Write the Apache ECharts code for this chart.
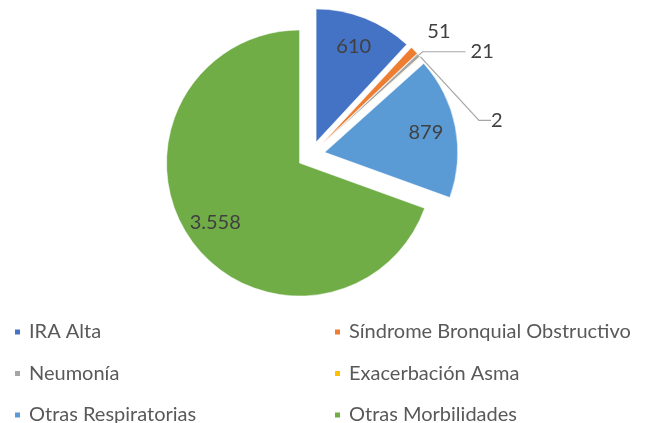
<!DOCTYPE html>
<html><head><meta charset="utf-8">
<script src="https://cdn.jsdelivr.net/npm/echarts@6/dist/echarts.min.js"></script>
<style>html,body{margin:0;padding:0;background:#fff}#c{width:645px;height:423px}</style>
</head><body><div id="c"></div>
<script>
const categories = ['IRA Alta','Síndrome Bronquial Obstructivo','Neumonía','Exacerbación Asma','Otras Respiratorias','Otras Morbilidades'];
const values = [610, 51, 21, 2, 879, 3558];
const colors = ['#4472C4','#ED7D31','#A5A5A5','#FFC000','#5B9BD5','#70AD47'];
const leftLegend = ['IRA Alta','Neumonía','Otras Respiratorias'];
const rightLegend = ['Síndrome Bronquial Obstructivo','Exacerbación Asma','Otras Morbilidades'];
const insideLabelIdx = [0,4,5];

function fmt(v){ return String(v).replace(/\B(?=(\d{3})+(?!\d))/g,'.'); }
const FONT = 'Lato';
const FS = 20;
const CENTER = [311,155];
const R = 133;
const OFFSET = 14;

const outsideCfg = {
  1: {label:{distanceToLabelLine:-6}, labelLine:{show:false, length:27, length2:0}},
  2: {label:{}, labelLine:{show:true, length:5, length2:43}},
  3: {label:{}, labelLine:{show:true, length:5, length2:12}}
};

const mainData = categories.map((n,i)=>{
  const o = {name:n, value:values[i], selected:true, itemStyle:{color:colors[i]}};
  if (insideLabelIdx.includes(i)) { o.label = {show:false}; o.labelLine = {show:false}; }
  else { o.label = Object.assign({show:true}, outsideCfg[i].label); o.labelLine = outsideCfg[i].labelLine; }
  return o;
});
const overlayData = categories.map((n,i)=>({name:n, value:values[i], selected:true,
  label:{show: insideLabelIdx.includes(i)}}));

const legendCommon = {
  orient:'vertical', icon:'rect', itemWidth:7, itemHeight:7, itemGap:21.5,
  selectedMode:false, padding:0, height:150,
  textStyle:{fontFamily:FONT, fontSize:FS, lineHeight:FS, color:'#595959', padding:[0,0,0,3]}
};

const chart = echarts.init(document.getElementById('c'), null, {renderer:'canvas'});
chart.setOption({
  animation:false,
  backgroundColor:'#fff',
  legend:[
    Object.assign({left:13, top:322, data:leftLegend}, legendCommon),
    Object.assign({left:333, top:322, data:rightLegend}, legendCommon)
  ],
  series:[
    {
      type:'pie', name:'main', center:CENTER, radius:[0,R],
      startAngle:90, clockwise:true, avoidLabelOverlap:false,
      selectedMode:'multiple', selectedOffset:OFFSET,
      itemStyle:{borderColor:'#fff', borderWidth:0.5},
      label:{position:'outside', color:'#404040', fontFamily:FONT, fontSize:FS,
        formatter:p=>fmt(p.value)},
      labelLine:{lineStyle:{color:'#A6A6A6', width:1.2}, smooth:false},
      labelLayout: function(p){
        if (p.dataIndex===3) {
          const r = p.labelRect;
          return {x: r.x, y: r.y + r.height/2, dx: 50, dy: 67};
        }
      },
      emphasis:{disabled:true},
      data:mainData
    },
    {
      type:'pie', name:'labels', center:CENTER, radius:[0,200], silent:true,
      startAngle:90, clockwise:true, avoidLabelOverlap:false,
      selectedMode:'multiple', selectedOffset:OFFSET,
      itemStyle:{color:'rgba(0,0,0,0)'},
      label:{position:'inside', color:'#404040', fontFamily:FONT, fontSize:FS,
        formatter:p=>fmt(p.value)},
      labelLine:{show:false},
      emphasis:{disabled:true},
      data:overlayData
    }
  ]
});
</script></body></html>
